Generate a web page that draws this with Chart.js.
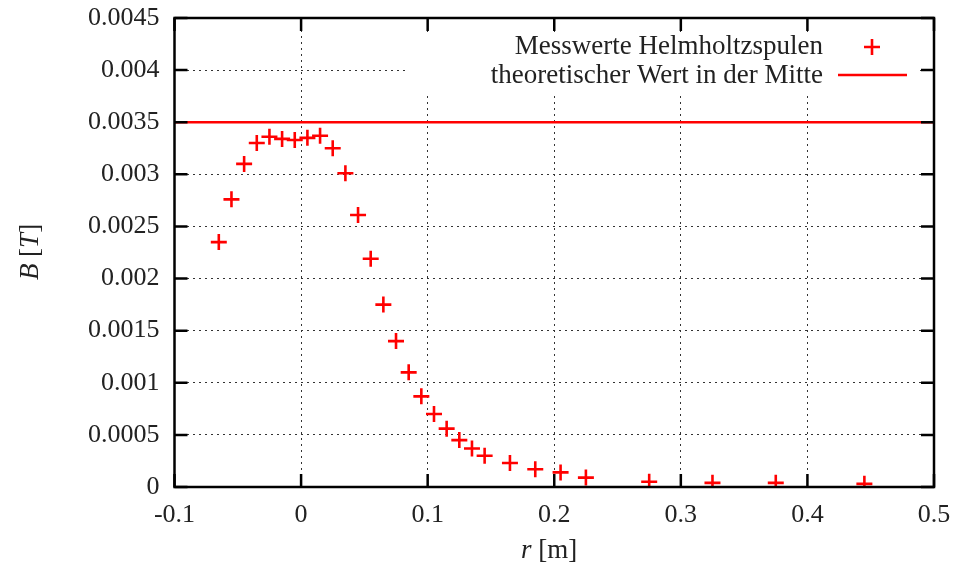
<!DOCTYPE html>
<html>
<head>
<meta charset="utf-8">
<script src="https://cdn.jsdelivr.net/npm/chart.js@4/dist/chart.umd.min.js"></script>
<style>
  html, body { margin: 0; padding: 0; background: #ffffff; }
  #wrap { width: 961px; height: 573px; position: relative; }
</style>
</head>
<body>
<div id="wrap"><canvas id="c" width="961" height="573"></canvas></div>
<script>
// ---- data ----
const rValues = [-0.065, -0.055, -0.045, -0.035, -0.025, -0.015, -0.005, 0.005, 0.015, 0.025,
                 0.035, 0.045, 0.055, 0.065, 0.075, 0.085, 0.095, 0.105, 0.115, 0.125,
                 0.135, 0.145, 0.165, 0.185, 0.205, 0.225, 0.275, 0.325, 0.375, 0.445];
const bValues = [0.00235, 0.00276, 0.00310, 0.00330, 0.00336, 0.00334, 0.00333, 0.00335, 0.00337, 0.00325,
                 0.00301, 0.00261, 0.00219, 0.00175, 0.00140, 0.00110, 0.00087, 0.00070, 0.00056, 0.00045,
                 0.00037, 0.00030, 0.00023, 0.00017, 0.00014, 0.00009, 0.00005, 0.00004, 0.00004, 0.00003];
const theoryR = [-0.1, 0.5];
const theoryB = [0.0035, 0.0035];
const xTickValues = [-0.1, 0, 0.1, 0.2, 0.3, 0.4, 0.5];
const xTickLabels = ["-0.1", "0", "0.1", "0.2", "0.3", "0.4", "0.5"];
const yTickValues = [0, 0.0005, 0.001, 0.0015, 0.002, 0.0025, 0.003, 0.0035, 0.004, 0.0045];
const yTickLabels = ["0", "0.0005", "0.001", "0.0015", "0.002", "0.0025", "0.003", "0.0035", "0.004", "0.0045"];
const seriesNames = ["Messwerte Helmholtzspulen", "theoretischer Wert in der Mitte"];

const FONT = "'Liberation Serif', 'DejaVu Serif', serif";
const FS = 26;
const LFS = 27;
const RED = "#ff0000";

function labelFor(values, labels, v) {
  for (let i = 0; i < values.length; i++) if (Math.abs(values[i] - v) < 1e-9) return labels[i];
  return "";
}

const framePlugin = {
  id: "frame",
  afterDraw(chart) {
    const ctx = chart.ctx;
    const a = chart.chartArea;
    const xs = chart.scales.x, ys = chart.scales.y;
    ctx.save();
    // legend box (white, hides grid)
    ctx.fillStyle = "#ffffff";
    ctx.fillRect(408, 33, a.right - 408 - 14, 60);
    ctx.font = LFS + "px " + FONT;
    ctx.fillStyle = "#222222";
    ctx.textAlign = "right";
    ctx.textBaseline = "middle";
    ctx.fillText(seriesNames[0], 823, 47);
    ctx.fillText(seriesNames[1], 823, 76);
    // legend samples
    ctx.strokeStyle = RED;
    ctx.lineWidth = 2.6;
    ctx.beginPath();
    ctx.moveTo(872 - 8, 47); ctx.lineTo(872 + 8, 47);
    ctx.moveTo(872, 47 - 8); ctx.lineTo(872, 47 + 8);
    ctx.stroke();
    ctx.beginPath();
    ctx.moveTo(838, 75); ctx.lineTo(907, 75);
    ctx.stroke();
    // ticks (inward, mirrored)
    ctx.strokeStyle = "#000000";
    ctx.lineWidth = 2.5;
    const TL = 13;
    ctx.beginPath();
    xTickValues.forEach(v => {
      const px = xs.getPixelForValue(v);
      ctx.moveTo(px, a.bottom); ctx.lineTo(px, a.bottom - TL);
      ctx.moveTo(px, a.top); ctx.lineTo(px, a.top + TL);
    });
    yTickValues.forEach(v => {
      const py = ys.getPixelForValue(v);
      ctx.moveTo(a.left, py); ctx.lineTo(a.left + TL, py);
      ctx.moveTo(a.right, py); ctx.lineTo(a.right - TL, py);
    });
    ctx.stroke();
    // frame
    ctx.strokeRect(a.left, a.top, a.right - a.left, a.bottom - a.top);
    // axis titles
    ctx.fillStyle = "#222222";
    ctx.textBaseline = "alphabetic";
    const it = "italic " + LFS + "px " + FONT, up = LFS + "px " + FONT;
    function mixed(parts, cx, cy) {
      let w = 0;
      parts.forEach(p => { ctx.font = p[1] ? it : up; w += ctx.measureText(p[0]).width; });
      let x = cx - w / 2;
      ctx.textAlign = "left";
      parts.forEach(p => { ctx.font = p[1] ? it : up; ctx.fillText(p[0], x, cy); x += ctx.measureText(p[0]).width; });
    }
    mixed([["r", true], [" [m]", false]], 549, 558);
    ctx.translate(38, 252);
    ctx.rotate(-Math.PI / 2);
    mixed([["B", true], [" [", false], ["T", true], ["]", false]], 0, 0);
    ctx.restore();
  }
};

new Chart(document.getElementById("c"), {
  type: "scatter",
  data: {
    datasets: [
      {
        label: seriesNames[0],
        data: rValues.map((r, i) => ({ x: r, y: bValues[i] })),
        pointStyle: "cross",
        pointRadius: 8,
        pointHoverRadius: 8,
        borderColor: RED,
        backgroundColor: RED,
        borderWidth: 2.6,
        showLine: false
      },
      {
        label: seriesNames[1],
        data: theoryR.map((r, i) => ({ x: r, y: theoryB[i] })),
        showLine: true,
        borderColor: RED,
        borderWidth: 2.6,
        pointRadius: 0,
        fill: false
      }
    ]
  },
  options: {
    responsive: false,
    animation: false,
    events: [],
    layout: { padding: { left: 0, right: 27, top: 18, bottom: 0 } },
    plugins: { legend: { display: false }, tooltip: { enabled: false } },
    scales: {
      x: {
        type: "linear",
        min: -0.1, max: 0.5,
        afterBuildTicks: s => { s.ticks = xTickValues.map(v => ({ value: v })); },
        afterFit: s => { s.height = 86; s.paddingLeft = 0; s.paddingRight = 0; },
        ticks: {
          autoSkip: false, maxRotation: 0, padding: 13,
          font: { family: FONT, size: FS }, color: "#222222",
          callback: v => labelFor(xTickValues, xTickLabels, v)
        },
        grid: { color: "#333333", lineWidth: 1, drawTicks: false },
        border: { display: false, dash: [2, 4] }
      },
      y: {
        type: "linear",
        min: 0, max: 0.0045,
        afterBuildTicks: s => { s.ticks = yTickValues.map(v => ({ value: v })); },
        afterFit: s => { s.width = 174.5; s.paddingTop = 0; s.paddingBottom = 0; },
        ticks: {
          autoSkip: false, padding: 15,
          font: { family: FONT, size: FS }, color: "#222222",
          callback: v => labelFor(yTickValues, yTickLabels, v)
        },
        grid: { color: "#333333", lineWidth: 1, drawTicks: false },
        border: { display: false, dash: [2, 4] }
      }
    }
  },
  plugins: [framePlugin]
});
</script>
</body>
</html>
